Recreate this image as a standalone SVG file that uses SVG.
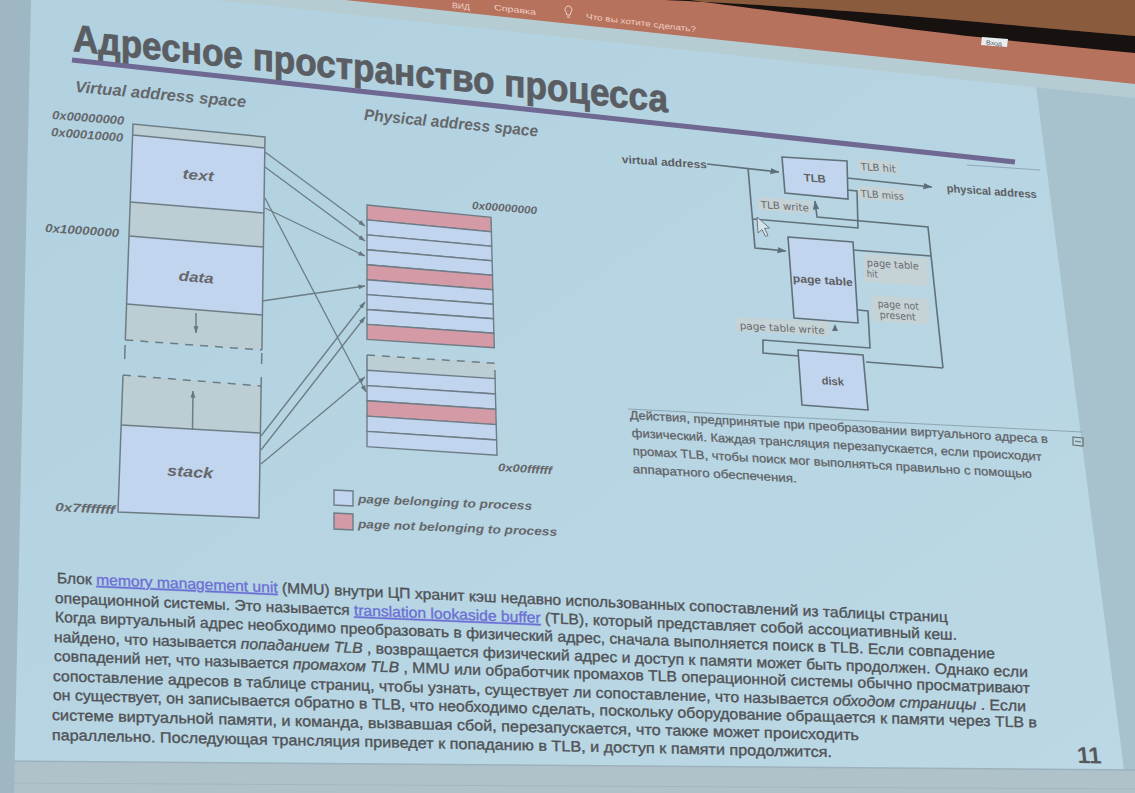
<svg xmlns="http://www.w3.org/2000/svg" width="1135" height="793" viewBox="0 0 1135 793">
  <defs>
    <linearGradient id="slideBg" x1="0" y1="0" x2="1" y2="1">
      <stop offset="0" stop-color="#b1d1e0"/>
      <stop offset="1" stop-color="#bcd8e5"/>
    </linearGradient>
    <marker id="arr" viewBox="0 0 10 10" refX="9.5" refY="5" markerWidth="7" markerHeight="7" markerUnits="userSpaceOnUse" orient="auto">
      <path d="M0,1.5 L10,5 L0,8.5 Z" fill="#677780"/>
    </marker>
    <marker id="arrT" viewBox="0 0 10 10" refX="9.5" refY="5" markerWidth="9" markerHeight="9" markerUnits="userSpaceOnUse" orient="auto">
      <path d="M0,1.5 L10,5 L0,8.5 Z" fill="#5f6f78"/>
    </marker>
    <style>
      .ln { stroke:#6d7d86; stroke-width:1.5; fill:none; }
      .ln2 { stroke:#61717a; stroke-width:1.6; fill:none; }
      .dash { stroke:#6d7d86; stroke-width:1.5; fill:none; stroke-dasharray:8 7; }
      .bl { fill:#c2d5ee; stroke:#6d7d86; stroke-width:1.4; }
      .gr { fill:#bccdd3; }
      .pk { fill:#d49ba7; stroke:#6d7d86; stroke-width:1.4; }
      .conn { stroke:#6d7d86; stroke-width:1.3; fill:none; marker-end:url(#arr); }
      .lab { font-family:'Liberation Sans', Arial, sans-serif; font-weight:bold; font-style:italic; fill:#65676b; }
      .tl { font-family:'DejaVu Sans', 'Liberation Sans', sans-serif; font-size:10px; fill:#686a6e; }
      .tb { font-family:'Liberation Sans', Arial, sans-serif; font-weight:bold; font-size:11px; fill:#5c5e62; }
      .lbg { fill:#c5d2d6; }
      .body { font-family:'Liberation Sans', Arial, sans-serif; font-size:15px; fill:#505256; stroke:#505256; stroke-width:0.35; }
      .link { fill:#6b6fd6; stroke:#6b6fd6; text-decoration:underline; }
      .cap { font-family:'Liberation Sans', Arial, sans-serif; font-size:12px; fill:#5f6165; stroke:#5f6165; stroke-width:0.25; }
      .rib { font-family:'Liberation Sans', Arial, sans-serif; font-size:8px; fill:#efcfc2; }
    </style>
  </defs>

  <!-- screen background, room and projector surround -->
  <g id="background">
    <rect width="1135" height="793" fill="url(#slideBg)"/>
    <polygon points="1036,86 1135,97 1135,793 1127,793" fill="#a7c1cd"/>
    <polygon points="0,761 1135,770 1135,793 0,793" fill="#afc2ca"/>
    <line x1="0" y1="761" x2="1135" y2="770" stroke="#9db2bc" stroke-width="1.5"/>
    <line x1="0" y1="783" x2="1135" y2="789" stroke="#a3b6bf" stroke-width="1"/>
    <polygon points="0,0 31,0 14,793 0,793" fill="#9eb7c3"/>
    <polygon points="213,0 1135,0 1135,98" fill="#b6ccd3"/>
    <polygon points="345,0 1135,0 1135,84" fill="#b7725e"/>
    <path d="M665,0 C760,4 900,14 1000,24 L1135,36 L1135,0 Z" fill="#8b5b3e"/>
    <path d="M665,0 C760,4 900,14 1000,24 L1135,36 L1135,53 C1050,45 960,36 880,25 C800,14 730,6 690,0 Z" fill="#17110f"/>
    <polygon points="982,37 1008,39 1007,47 981,45" fill="#e8eef0"/>
    <text transform="matrix(1 0.08 0 1 986 44.5)" font-family="'Liberation Sans', Arial, sans-serif" font-size="6" fill="#555" textLength="16" lengthAdjust="spacingAndGlyphs">Вход</text>
  </g>

  <!-- application ribbon texts -->
  <g id="ribbon">
    <text class="rib" transform="matrix(1 0.106 0 1 452 8)" textLength="18" lengthAdjust="spacingAndGlyphs">ВИД</text>
    <text class="rib" transform="matrix(1 0.12 0 1 494 10)" textLength="42" lengthAdjust="spacingAndGlyphs">Справка</text>
    <path d="M565,9 a3.5,3.5 0 1 1 6,3 l-1,3 h-3 l-1,-3 a3.5,3.5 0 0 1 -1,-3 z M567,17 h3" fill="none" stroke="#efcfc2" stroke-width="1"/>
    <text class="rib" transform="matrix(1 0.12 0 1 586 19)" textLength="110" lengthAdjust="spacingAndGlyphs">Что вы хотите сделать?</text>
  </g>

  <!-- slide title and rule -->
  <g id="title">
    <text transform="matrix(1 0.103 0 1 73 51)" font-family="'Liberation Sans', Arial, sans-serif" font-weight="bold" font-size="38" fill="#5a5d62" stroke="#5a5d62" stroke-width="0.8" textLength="595" lengthAdjust="spacingAndGlyphs">Адресное пространство процесса</text>
    <line x1="72" y1="60" x2="1015" y2="162" stroke="#6e6892" stroke-width="5"/>
    <line x1="967" y1="165" x2="1040" y2="170" stroke="#8fa9b6" stroke-width="1"/>
  </g>

  <!-- virtual address space column -->
  <g id="virtual-space">
    <text class="lab" font-size="16" transform="matrix(1 0.09 -0.03 1 75 92)" textLength="171" lengthAdjust="spacingAndGlyphs">Virtual address space</text>
    <text class="lab" font-size="12" transform="matrix(1 0.08 -0.04 1 52 119)" textLength="72" lengthAdjust="spacingAndGlyphs">0x00000000</text>
    <text class="lab" font-size="12" transform="matrix(1 0.08 -0.04 1 51 136)" textLength="72" lengthAdjust="spacingAndGlyphs">0x00010000</text>
    <text class="lab" font-size="12" transform="matrix(1 0.07 -0.04 1 45 232)" textLength="74" lengthAdjust="spacingAndGlyphs">0x10000000</text>
    <text class="lab" font-size="12" transform="matrix(1 0.05 -0.04 1 55 511)" textLength="60" lengthAdjust="spacingAndGlyphs">0x7fffffff</text>

    <polygon class="gr" points="133,124 265,137 265,148 133,135"/>
    <polygon class="bl" points="133,135 265,148 264,213 130.5,202" style="stroke:none"/>
    <polygon class="gr" points="130.5,202 264,213 263.5,247 129.2,236"/>
    <polygon class="bl" points="129.2,236 263.5,247 262.4,315 126.6,304" style="stroke:none"/>
    <polygon class="gr" points="126.6,304 262.4,315 261.9,350 125.3,340"/>
    <polygon class="gr" points="123,375 261.3,386 260.5,433 121.2,425"/>
    <polygon class="bl" points="121.2,425 260.5,433 259,518 118,512" style="stroke:none"/>

    <polyline class="ln" points="125.3,340 133,124 265,137 261.9,350"/>
    <line class="ln" x1="133" y1="135" x2="265" y2="148"/>
    <line class="ln" x1="130.5" y1="202" x2="264" y2="213"/>
    <line class="ln" x1="129.2" y1="236" x2="263.5" y2="247"/>
    <line class="ln" x1="126.6" y1="304" x2="262.4" y2="315"/>
    <line class="dash" x1="125.3" y1="340" x2="261.9" y2="350"/>
    <line class="ln" x1="125.1" y1="345" x2="124.7" y2="359"/>
    <line class="ln" x1="261.8" y1="353" x2="261.6" y2="364"/>
    <line class="dash" x1="123" y1="375" x2="261.3" y2="386"/>
    <polyline class="ln" points="123,375 118,512 259,518 261.3,377"/>
    <line class="ln" x1="121.2" y1="425" x2="260.5" y2="433"/>
    <line class="ln" x1="196" y1="313" x2="196" y2="333" style="marker-end:url(#arr)"/>
    <line class="ln" x1="192.5" y1="430" x2="193" y2="391" style="marker-end:url(#arr)"/>

    <text class="lab" font-size="14" text-anchor="middle" transform="matrix(1 0.09 -0.03 1 198 180)" textLength="31" lengthAdjust="spacingAndGlyphs">text</text>
    <text class="lab" font-size="14" text-anchor="middle" transform="matrix(1 0.08 -0.03 1 196 282)" textLength="35" lengthAdjust="spacingAndGlyphs">data</text>
    <text class="lab" font-size="15" text-anchor="middle" transform="matrix(1 0.06 -0.03 1 190 477)" textLength="46" lengthAdjust="spacingAndGlyphs">stack</text>
  </g>

  <!-- physical address space column -->
  <g id="physical-space">
    <text class="lab" font-size="16" transform="matrix(1 0.095 0 1 364 120)" textLength="174" lengthAdjust="spacingAndGlyphs">Physical address space</text>
    <text class="lab" font-size="11" transform="matrix(1 0.08 0 1 472 209)" textLength="65" lengthAdjust="spacingAndGlyphs">0x00000000</text>
    <text class="lab" font-size="11" transform="matrix(1 0.06 0 1 498 471)" textLength="54" lengthAdjust="spacingAndGlyphs">0x00ffffff</text>

    <polygon class="pk" points="367,205 491,217.3 491.4,231.8 367,219.9"/>
    <polygon class="bl" points="367,219.9 491.4,231.8 491.7,246.3 367,234.9"/>
    <polygon class="bl" points="367,234.9 491.7,246.3 492.1,260.8 367,249.8"/>
    <polygon class="bl" points="367,249.8 492.1,260.8 492.5,275.3 367,264.7"/>
    <polygon class="pk" points="367,264.7 492.5,275.3 492.8,289.8 367,279.7"/>
    <polygon class="bl" points="367,279.7 492.8,289.8 493.2,304.2 367,294.6"/>
    <polygon class="bl" points="367,294.6 493.2,304.2 493.5,318.7 367,309.5"/>
    <polygon class="bl" points="367,309.5 493.5,318.7 493.9,333.2 367,324.4"/>
    <polygon class="pk" points="367,324.4 493.9,333.2 494.3,347.7 367,339.4"/>

    <polygon class="gr" points="367,355 494.7,363.3 495.1,378.6 367,370.3"/>
    <line class="dash" x1="367" y1="355" x2="494.7" y2="363.3"/>
    <line class="ln" x1="367" y1="355" x2="367" y2="370.3"/>
    <line class="ln" x1="494.9" y1="370" x2="495.1" y2="378.6"/>
    <polygon class="bl" points="367,370.3 495.1,378.6 495.4,394 367,385.6"/>
    <polygon class="bl" points="367,385.6 495.4,394 495.8,409.3 367,400.8"/>
    <polygon class="pk" points="367,400.8 495.8,409.3 496.2,424.6 367,416.1"/>
    <polygon class="bl" points="367,416.1 496.2,424.6 496.6,440 367,431.4"/>
    <polygon class="bl" points="367,431.4 496.6,440 497,455.3 367,446.7"/>
  </g>

  <!-- legend -->
  <g id="legend">
    <polygon class="bl" points="334,490 353,491 353,506 334,505"/>
    <polygon class="pk" points="334,513 353,514 353,530 334,529"/>
    <text class="lab" font-size="12" transform="matrix(1 0.04 0 1 358 503)" textLength="174" lengthAdjust="spacingAndGlyphs">page belonging to process</text>
    <text class="lab" font-size="12" transform="matrix(1 0.04 0 1 358 528)" textLength="199" lengthAdjust="spacingAndGlyphs">page not belonging to process</text>
  </g>

  <!-- page mappings from virtual to physical -->
  <g id="connectors">
    <line class="conn" x1="265" y1="152" x2="365" y2="226"/>
    <line class="conn" x1="265" y1="167" x2="365" y2="241"/>
    <line class="conn" x1="265" y1="198" x2="366" y2="392"/>
    <line class="conn" x1="265" y1="208" x2="365" y2="256"/>
    <line class="conn" x1="262" y1="301" x2="365" y2="286"/>
    <line class="conn" x1="261" y1="436" x2="365" y2="302"/>
    <line class="conn" x1="261" y1="450" x2="365" y2="317"/>
    <line class="conn" x1="261" y1="464" x2="365" y2="377"/>
  </g>

  <!-- translation flow: TLB, page table, disk -->
  <g id="tlb-flow">
    <path class="ln2" d="M707,164 L779,172" marker-end="url(#arrT)"/>
    <path class="ln2" d="M748,168 L755,248 L786,251" marker-end="url(#arrT)"/>
    <path class="ln2" d="M847,190 L857,191 L858,228 L753,219"/>
    <path class="ln2" d="M853,250 L931,256"/>
    <path class="ln2" d="M943,368 L928,227 L817,217 L815,201" marker-end="url(#arrT)"/>
    <path class="ln2" d="M943,368 L866,362"/>
    <path class="ln2" d="M858,310 L868,311 L870,348 L763,340 L763,353 L799,356"/>
    <path class="ln2" d="M847,178 L932,187" marker-end="url(#arrT)"/>
    <polygon points="832,331 838,331 835,324" fill="#5f6f78"/>
  </g>

  <g id="tlb">
    <polygon class="bl" points="782,157 847,161 848,199 785,193" style="stroke:#61717a;stroke-width:1.6"/>
    <text class="tb" text-anchor="middle" transform="matrix(1 0.07 0.07 1 815 182)" textLength="22" lengthAdjust="spacingAndGlyphs">TLB</text>
  </g>
  <g id="page-table">
    <polygon class="bl" points="788,237 853,242 858,323 794,318" style="stroke:#61717a;stroke-width:1.6"/>
    <text class="tb" text-anchor="middle" transform="matrix(1 0.07 0.07 1 823 284)" textLength="60" lengthAdjust="spacingAndGlyphs">page table</text>
  </g>
  <g id="disk">
    <polygon class="bl" points="798,350 863,355 868,410 802,405" style="stroke:#61717a;stroke-width:1.6"/>
    <text class="tb" text-anchor="middle" transform="matrix(1 0.06 0.07 1 833 385)" textLength="22" lengthAdjust="spacingAndGlyphs">disk</text>
  </g>

  <g id="tlb-labels">
    <text class="tb" transform="matrix(1 0.065 0.05 1 622 163)" textLength="85" lengthAdjust="spacingAndGlyphs">virtual address</text>
    <text class="tb" transform="matrix(1 0.07 0.09 1 947 192)" textLength="90" lengthAdjust="spacingAndGlyphs">physical address</text>
    <polygon class="lbg" points="858,159 898,162 898,174 858,171"/>
    <text class="tl" transform="matrix(1 0.07 0.08 1 861 170)" textLength="35" lengthAdjust="spacingAndGlyphs">TLB hit</text>
    <polygon class="lbg" points="858,186 906,189 906,202 858,199"/>
    <text class="tl" transform="matrix(1 0.07 0.08 1 861 197)" textLength="43" lengthAdjust="spacingAndGlyphs">TLB miss</text>
    <polygon class="lbg" points="758,197 812,201 812,214 758,210"/>
    <text class="tl" transform="matrix(1 0.07 0.07 1 761 208)" textLength="48" lengthAdjust="spacingAndGlyphs">TLB write</text>
    <polygon class="lbg" points="863,254 927,258 928,286 864,282"/>
    <text class="tl" transform="matrix(1 0.07 0.08 1 867 266)" textLength="52" lengthAdjust="spacingAndGlyphs">page table</text>
    <text class="tl" transform="matrix(1 0.07 0.08 1 867 277)" textLength="11" lengthAdjust="spacingAndGlyphs">hit</text>
    <polygon class="lbg" points="871,295 929,299 930,325 872,321"/>
    <text class="tl" transform="matrix(1 0.07 0.08 1 878 307)" textLength="41" lengthAdjust="spacingAndGlyphs">page not</text>
    <text class="tl" transform="matrix(1 0.07 0.08 1 880 318)" textLength="36" lengthAdjust="spacingAndGlyphs">present</text>
    <polygon class="lbg" points="736,317 830,322 830,336 736,331"/>
    <text class="tl" transform="matrix(1 0.06 0.07 1 740 329)" textLength="85" lengthAdjust="spacingAndGlyphs">page table write</text>
    <!-- mouse pointer -->
    <path d="M757,217 L758,233 L762,229.5 L765.5,236.5 L768,235.3 L764.6,228.4 L769.5,228 Z" fill="#d6e3e9" stroke="#6b7b85" stroke-width="1"/>
  </g>

  <!-- figure caption -->
  <g id="caption">
    <line x1="628" y1="409" x2="1082" y2="432" stroke="#8ea6b2" stroke-width="1"/>
    <text class="cap" transform="matrix(1 0.058 0.07 1 630 419)" textLength="418" lengthAdjust="spacingAndGlyphs">Действия, предпринятые при преобразовании виртуального адреса в</text>
    <text class="cap" transform="matrix(1 0.058 0.07 1 632 437)" textLength="410" lengthAdjust="spacingAndGlyphs">физический. Каждая трансляция перезапускается, если происходит</text>
    <text class="cap" transform="matrix(1 0.058 0.07 1 633 455)" textLength="399" lengthAdjust="spacingAndGlyphs">промах TLB, чтобы поиск мог выполняться правильно с помощью</text>
    <text class="cap" transform="matrix(1 0.058 0.07 1 633 473)" textLength="164" lengthAdjust="spacingAndGlyphs">аппаратного обеспечения.</text>
    <g fill="none" stroke="#6a6c70" stroke-width="1.2">
      <polygon points="1073,437 1083,438 1083,446 1073,445"/>
      <line x1="1075" y1="441" x2="1081" y2="442"/>
    </g>
  </g>

  <!-- body paragraph -->
  <g id="body-text">
    <text class="body" transform="matrix(1 0.044 0.02 1 57 583)" textLength="891" lengthAdjust="spacingAndGlyphs">Блок <tspan class="link">memory management unit</tspan> (MMU) внутри ЦП хранит кэш недавно использованных сопоставлений из таблицы страниц</text>
    <text class="body" transform="matrix(1 0.041 0.02 1 55 603)" textLength="902" lengthAdjust="spacingAndGlyphs">операционной системы. Это называется <tspan class="link">translation lookaside buffer</tspan> (TLB), который представляет собой ассоциативный кеш.</text>
    <text class="body" transform="matrix(1 0.039 0.02 1 55 622)" textLength="940" lengthAdjust="spacingAndGlyphs">Когда виртуальный адрес необходимо преобразовать в физический адрес, сначала выполняется поиск в TLB. Если совпадение</text>
    <text class="body" transform="matrix(1 0.036 0.02 1 54 642)" textLength="974" lengthAdjust="spacingAndGlyphs">найдено, что называется <tspan font-style="italic">попаданием TLB</tspan> , возвращается физический адрес и доступ к памяти может быть продолжен. Однако если</text>
    <text class="body" transform="matrix(1 0.033 0.02 1 54 661)" textLength="976" lengthAdjust="spacingAndGlyphs">совпадений нет, что называется <tspan font-style="italic">промахом TLB</tspan> , MMU или обработчик промахов TLB операционной системы обычно просматривают</text>
    <text class="body" transform="matrix(1 0.031 0.02 1 53 681)" textLength="973" lengthAdjust="spacingAndGlyphs">сопоставление адресов в таблице страниц, чтобы узнать, существует ли сопоставление, что называется <tspan font-style="italic">обходом страницы</tspan> . Если</text>
    <text class="body" transform="matrix(1 0.028 0.02 1 53 700)" textLength="984" lengthAdjust="spacingAndGlyphs">он существует, он записывается обратно в TLB, что необходимо сделать, поскольку оборудование обращается к памяти через TLB в</text>
    <text class="body" transform="matrix(1 0.025 0.02 1 52 720)" textLength="807" lengthAdjust="spacingAndGlyphs">системе виртуальной памяти, и команда, вызвавшая сбой, перезапускается, что также может происходить</text>
    <text class="body" transform="matrix(1 0.022 0.02 1 52 740)" textLength="780" lengthAdjust="spacingAndGlyphs">параллельно. Последующая трансляция приведет к попаданию в TLB, и доступ к памяти продолжится.</text>
  </g>

  <g id="page-number">
    <text transform="matrix(1 0.02 0.1 1 1078 763)" font-family="'Liberation Sans', Arial, sans-serif" font-weight="bold" font-size="23" fill="#56585c" textLength="24" lengthAdjust="spacingAndGlyphs">11</text>
  </g>
</svg>
